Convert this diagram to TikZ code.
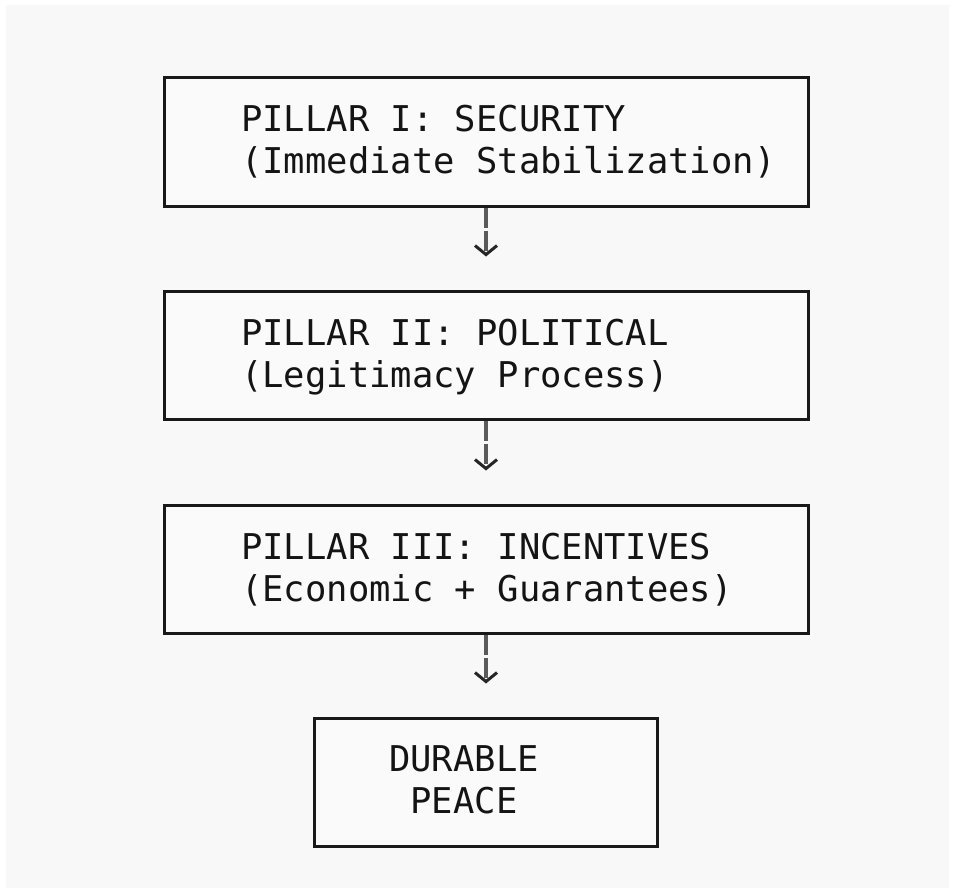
\documentclass[tikz,border=0pt]{standalone}
\usepackage{fontspec}
\setmonofont{DejaVu Sans Mono}
\usetikzlibrary{arrows.meta}
\definecolor{bgpanel}{HTML}{F8F8F8}
\definecolor{boxfill}{HTML}{FAFAFA}
\definecolor{shaft}{HTML}{5A5A5A}
\tikzset{
  pillarbox/.style={draw=black!90, line width=3pt, fill=boxfill, rectangle, inner sep=0pt},
  boxtext/.style={font=\ttfamily\fontsize{35.5}{42}\selectfont, text=black!92, inner sep=0pt},
  flow/.style={draw=shaft, line width=3.4pt, dash pattern=on 20pt off 3pt,
    -{Straight Barb[length=9pt,width=22pt,line width=3pt,color=black!85]},
    shorten >=33pt}
}
\begin{document}
\begin{tikzpicture}[x=1pt,y=-1pt]
\useasboundingbox (0,0) rectangle (954,894);
\fill[white] (0,0) rectangle (954,894);
\fill[bgpanel] (6,5) rectangle (949,888);

\node[pillarbox, minimum width=644pt, minimum height=129pt] (p1) at (486,141.5) {};
\node[pillarbox, minimum width=644pt, minimum height=128pt] (p2) at (486,355) {};
\node[pillarbox, minimum width=644pt, minimum height=128pt] (p3) at (486,569) {};
\node[pillarbox, minimum width=343pt, minimum height=128pt] (p4) at (485.5,782) {};

\node[boxtext, anchor=base west] (p1a) at (241,131) {PILLAR I: SECURITY};
\node[boxtext, anchor=base west] (p1b) at (241,173) {(Immediate Stabilization)};
\node[boxtext, anchor=base west] (p2a) at (241,345) {PILLAR II: POLITICAL};
\node[boxtext, anchor=base west] (p2b) at (241,387) {(Legitimacy Process)};
\node[boxtext, anchor=base west] (p3a) at (241,559) {PILLAR III: INCENTIVES};
\node[boxtext, anchor=base west] (p3b) at (241,601) {(Economic + Guarantees)};
\node[boxtext, anchor=base] (p4a) at (464,771) {DURABLE};
\node[boxtext, anchor=base] (p4b) at (464,813) {PEACE};

\draw[flow] (p1.south) -- (p2.north);
\draw[flow] (p2.south) -- (p3.north);
\draw[flow] (p3.south) -- (p3.south |- p4.north);
\end{tikzpicture}
\end{document}
